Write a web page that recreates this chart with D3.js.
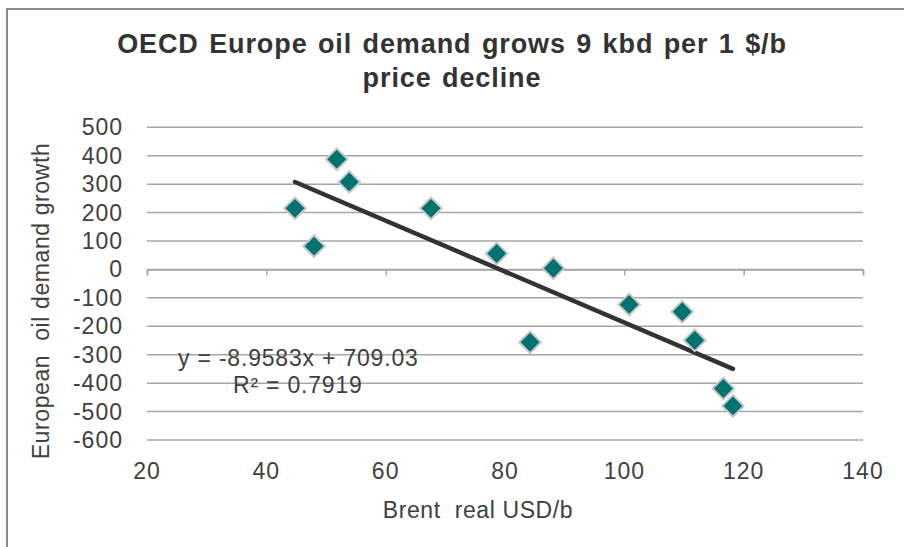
<!DOCTYPE html>
<html>
<head>
<meta charset="utf-8">
<script src="https://cdn.jsdelivr.net/npm/d3@7"></script>
<style>
  body { margin: 0; background: #fff; }
  text { font-family: "Liberation Sans", Arial, sans-serif; }
</style>
</head>
<body>
<svg id="chart" width="904" height="547"></svg>
<script>
// brent real price vs european demand growth
var price  = [44.8, 48.0, 51.8, 53.9, 67.6, 78.6, 84.2, 88.1, 100.8, 109.7, 111.8, 116.6, 118.2]
var growth = [215, 82, 388, 308, 215, 56, -256, 4, -123, -149, -249, -419, -480]

var xTicks = [20, 40, 60, 80, 100, 120, 140]
var yTicks = [500, 400, 300, 200, 100, 0, -100, -200, -300, -400, -500, -600]

// linear trend as printed on the chart
var slope = -8.9583
var intercept = 709.03
var rSquared = 0.7919

var titleLines = ["OECD Europe oil demand grows 9 kbd per 1 $/b", "price decline"]
var xTitle = "Brent  real USD/b"
var yTitle = "European  oil demand growth"

var svg = d3.select("#chart")

// chart border
svg.append("rect")
    .attr("x", 7).attr("y", 9)
    .attr("width", 1000).attr("height", 1000)
    .attr("fill", "none")
    .attr("stroke", "#8c8c8c")
    .attr("stroke-width", 2)

var plotLeft = 147, plotRight = 863, plotTop = 127.3, plotBottom = 440

var x = d3.scaleLinear().domain([20, 140]).range([plotLeft, plotRight])
var y = d3.scaleLinear().domain([-600, 500]).range([plotBottom, plotTop])

// horizontal gridlines
svg.append("g").selectAll("line")
    .data(yTicks)
    .join("line")
    .attr("x1", plotLeft).attr("x2", plotRight)
    .attr("y1", function(d) { return y(d) })
    .attr("y2", function(d) { return y(d) })
    .attr("stroke", "#a6a6a6")
    .attr("stroke-width", 1.5)

// x axis sits on zero, ticks pointing down
var xAxis = d3.axisBottom(x).tickValues(xTicks).tickSize(6).tickFormat("")
var xg = svg.append("g")
    .attr("transform", "translate(0," + y(0) + ")")
    .call(xAxis)
xg.select(".domain").attr("stroke", "#a6a6a6").attr("stroke-width", 1.5)
xg.selectAll(".tick line").attr("stroke", "#a6a6a6").attr("stroke-width", 1.5)

// x tick labels along the bottom
svg.append("g").selectAll("text")
    .data(xTicks)
    .join("text")
    .attr("x", function(d) { return x(d) })
    .attr("y", 479)
    .attr("text-anchor", "middle")
    .attr("font-size", 23)
    .attr("letter-spacing", 1)
    .attr("fill", "#404040")
    .text(function(d) { return d })

// y tick labels
svg.append("g").selectAll("text")
    .data(yTicks)
    .join("text")
    .attr("x", 123)
    .attr("y", function(d) { return y(d) + 8 })
    .attr("text-anchor", "end")
    .attr("font-size", 23)
    .attr("letter-spacing", 1)
    .attr("fill", "#404040")
    .text(function(d) { return d })

// trendline over data range
var xMin = d3.min(price), xMax = d3.max(price)
svg.append("line")
    .attr("x1", x(xMin)).attr("y1", y(slope * xMin + intercept))
    .attr("x2", x(xMax)).attr("y2", y(slope * xMax + intercept))
    .attr("stroke", "#333333")
    .attr("stroke-width", 4.5)
    .attr("stroke-linecap", "round")

// diamonds
svg.append("g").selectAll("path")
    .data(d3.range(price.length))
    .join("path")
    .attr("transform", function(i) { return "translate(" + x(price[i]) + "," + y(growth[i]) + ") rotate(45)" })
    .attr("d", d3.symbol().type(d3.symbolSquare).size(235))
    .attr("fill", "#007370")
    .attr("stroke", "#c8c8c8")
    .attr("stroke-width", 2)

// equation label
svg.append("text")
    .attr("x", 178).attr("y", 366)
    .attr("font-size", 23)
    .attr("letter-spacing", 0.8)
    .attr("fill", "#404040")
    .text("y = " + slope + "x + " + intercept)
svg.append("text")
    .attr("x", 233).attr("y", 393)
    .attr("font-size", 23)
    .attr("letter-spacing", 0.8)
    .attr("fill", "#404040")
    .text("R\u00b2 = " + rSquared)

// titles
svg.append("g").selectAll("text")
    .data(titleLines)
    .join("text")
    .attr("x", 452)
    .attr("y", function(d, i) { return 53 + i * 34 })
    .attr("text-anchor", "middle")
    .attr("font-size", 27)
    .attr("font-weight", "bold")
    .attr("letter-spacing", 0.9)
    .attr("word-spacing", 2)
    .attr("fill", "#333333")
    .text(function(d) { return d })

svg.append("text")
    .attr("x", 478).attr("y", 518)
    .attr("text-anchor", "middle")
    .attr("font-size", 23)
    .attr("letter-spacing", 0.6)
    .attr("fill", "#404040")
    .style("white-space", "pre")
    .text(xTitle)

svg.append("text")
    .attr("transform", "translate(49,301) rotate(-90)")
    .attr("text-anchor", "middle")
    .attr("font-size", 23)
    .attr("letter-spacing", 0.6)
    .attr("fill", "#404040")
    .style("white-space", "pre")
    .text(yTitle)
</script>
</body>
</html>
